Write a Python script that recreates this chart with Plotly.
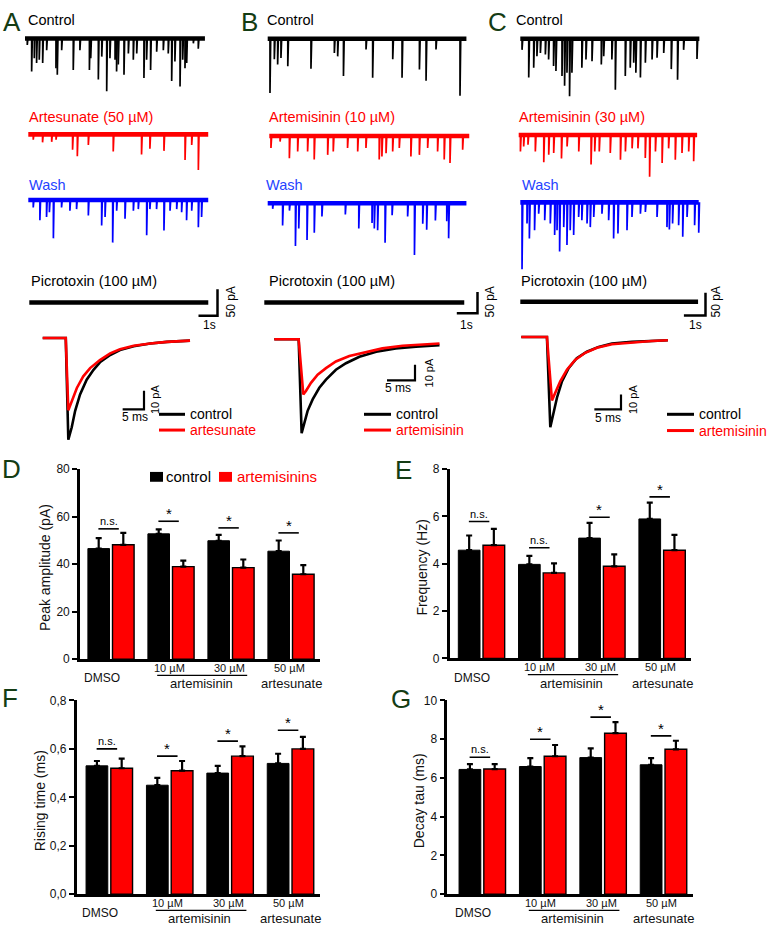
import plotly.graph_objects as go

W, H = 768, 934
FONT = "Liberation Sans, Arial, sans-serif"
BLACK = "#000000"
RED = "#ff0000"
BLUE = "#0000ff"
BLUE_TXT = "#2443ff"
LETTER = "#143c14"

# ---------------- spontaneous IPSC recordings: event times (s) and amplitudes (pA) ----------------
A_ctrl_t = [0.12, 0.35, 0.49, 0.61, 0.75, 0.93, 1.14, 1.63, 1.70, 1.93, 2.54, 2.89, 3.39, 3.46, 3.86, 4.04,
            4.30, 4.47, 4.74, 4.82, 4.91, 5.21, 5.44, 5.70, 5.88, 6.26, 6.40, 6.61, 6.93, 7.28, 7.54, 7.72,
            7.89, 8.16, 8.30, 8.42, 8.51, 8.86, 9.12]
A_ctrl_a = [12, 62, 37, 46, 40, 46, 22, 56, 68, 22, 59, 22, 59, 37, 77, 34,
            99, 37, 40, 62, 49, 68, 28, 40, 28, 74, 40, 59, 25, 22, 28, 80,
            43, 90, 40, 56, 46, 9, 19]
A_drug_t = [0.26, 0.75, 1.23, 1.46, 2.33, 2.58, 3.16, 4.47, 5.96, 6.40, 7.14, 8.25, 8.60, 8.95]
A_drug_a = [10, 15, 14, 10, 29, 41, 20, 32, 38, 27, 31, 48, 20, 67]
A_wash_t = [0.26, 0.61, 0.96, 1.11, 1.32, 1.75, 2.19, 2.54, 3.16, 3.86, 4.04, 4.44, 4.65, 5.09, 5.53, 5.79,
            6.23, 6.40, 6.75, 7.14, 7.46, 7.81, 8.07, 8.33, 8.60, 8.95, 9.12]
A_wash_a = [14, 38, 32, 23, 72, 14, 20, 17, 29, 48, 32, 80, 20, 35, 20, 17,
            66, 17, 17, 57, 20, 17, 23, 38, 20, 51, 32]

B_ctrl_t = [0.11, 0.32, 0.48, 0.64, 0.97, 2.09, 3.22, 3.38, 3.66, 4.75, 5.07, 6.04, 6.49, 7.33, 7.65, 8.13, 9.29]
B_ctrl_a = [127, 48, 60, 45, 64, 70, 33, 41, 87, 25, 91, 48, 91, 72, 98, 25, 133]
B_drug_t = [0.08, 0.52, 0.97, 1.37, 1.85, 2.17, 2.82, 3.09, 3.78, 4.27, 4.67, 5.31, 5.44, 5.64, 5.96, 6.28,
            6.84, 7.25, 7.65, 8.13, 8.45, 8.73, 9.34]
B_drug_a = [28, 13, 52, 36, 36, 55, 44, 36, 28, 36, 28, 55, 48, 40, 36, 28,
            48, 44, 28, 36, 55, 63, 32]
B_wash_t = [0.24, 0.72, 1.05, 1.34, 1.50, 1.90, 2.25, 2.62, 3.75, 4.40, 5.04, 5.15, 5.31, 5.67, 6.01, 6.76,
            7.09, 7.49, 7.68, 8.10, 8.65, 8.74]
B_wash_a = [13, 52, 17, 100, 59, 86, 69, 31, 26, 59, 46, 59, 63, 92, 28, 31,
            121, 48, 62, 40, 42, 82]

C_ctrl_t = [0.08, 0.39, 0.62, 0.77, 0.93, 1.16, 1.31, 1.54, 1.65, 1.93, 2.05, 2.16, 2.28, 2.39, 2.85, 3.04,
            3.32, 3.75, 3.86, 4.24, 4.40, 4.86, 5.09, 5.25, 5.35, 5.56, 5.79, 6.10, 6.33, 6.64, 6.99, 7.28,
            7.56, 8.18]
C_ctrl_a = [24, 84, 63, 38, 31, 34, 45, 59, 70, 81, 102, 74, 125, 74, 63, 45,
            49, 56, 38, 45, 111, 81, 63, 52, 74, 84, 52, 45, 41, 31, 66, 89,
            24, 44]
C_drug_t = [0.08, 0.23, 0.43, 0.77, 1.16, 1.39, 1.62, 1.98, 2.24, 2.78, 3.35, 3.52, 3.73, 4.24, 4.71, 4.94,
            5.25, 5.52, 5.86, 6.06, 6.33, 6.64, 6.94, 7.25, 7.56, 7.87, 8.10]
C_drug_a = [36, 25, 21, 36, 59, 43, 39, 51, 25, 36, 64, 36, 36, 39, 54, 36,
            29, 29, 50, 91, 36, 61, 29, 54, 39, 36, 57]
C_wash_t = [0.08, 0.31, 0.42, 0.66, 0.85, 1.13, 1.39, 1.59, 1.70, 1.82, 2.01, 2.16, 2.31, 2.47, 2.70, 2.85,
            3.09, 3.24, 3.40, 3.78, 4.09, 4.32, 4.52, 4.94, 5.17, 5.56, 5.79, 6.33, 6.79, 6.90, 7.05, 7.33,
            7.52, 7.72, 8.07, 8.26]
C_wash_a = [146, 46, 79, 61, 25, 39, 46, 71, 61, 107, 54, 93, 61, 71, 32, 39,
            46, 54, 32, 25, 39, 79, 68, 61, 32, 25, 21, 32, 54, 59, 46, 50,
            75, 32, 50, 66]

# recording durations (s)
A_len = [9.47, 9.47, 9.47, 9.42]
B_len = [9.60, 9.66, 9.60, 9.66]
C_len = [8.29, 8.26, 8.26, 8.23]

# ---------------- averaged IPSC waveforms: time (ms), current (pA) ----------------
A_avg_t = [0, 5.4, 6.0, 6.8, 7.6, 8.75, 10.3, 11.9, 13.4, 15.8, 18.1, 21.3, 25.2, 29.1, 34.5]
A_avg_ctrl = [0, 0, -54.4, -47.7, -38.9, -30.2, -22.3, -17.0, -13.0, -9.1, -6.5, -4.4, -3.0, -2.1, -1.4]
A_avg_drug_t = [0, 5.4, 6.0, 6.8, 8.0, 9.5, 11.1, 13.4, 15.8, 18.1, 21.3, 25.2, 29.1, 34.5]
A_avg_drug = [0, 0, -38.6, -33.7, -26.7, -20.5, -16.1, -11.8, -8.2, -6.0, -4.2, -3.0, -2.1, -1.4]

B_avg_t = [0, 4.35, 4.88, 5.36, 5.95, 6.85, 8.04, 9.23, 11.0, 12.8, 15.2, 18.2, 21.7, 25.3, 29.5]
B_avg_ctrl = [0, 0, -60.7, -53.7, -46.3, -38.9, -31.4, -26.1, -19.7, -15.5, -11.3, -8.1, -5.9, -4.9, -3.8]
B_avg_drug_t = [0, 4.35, 5.18, 5.65, 6.55, 7.74, 9.23, 11.0, 13.4, 16.4, 19.3, 22.9, 26.5, 29.5]
B_avg_drug = [0, 0, -35.7, -33.5, -28.2, -22.9, -18.7, -14.4, -10.8, -8.1, -5.9, -4.2, -3.4, -2.8]

C_avg_t = [0, 4.81, 5.44, 6.06, 6.69, 7.63, 8.88, 10.4, 12.3, 14.5, 17.0, 20.75, 24.5, 27.5]
C_avg_ctrl = [0, 0, -61.1, -52.2, -41.1, -30.0, -21.1, -14.4, -10.0, -6.7, -4.4, -3.3, -2.7, -2.2]
C_avg_drug_t = [0, 4.81, 5.75, 6.38, 7.31, 8.56, 10.1, 12.0, 14.2, 17.0, 20.75, 24.5, 27.5]
C_avg_drug = [0, 0, -42.9, -37.8, -30.0, -22.2, -15.6, -10.7, -7.3, -4.9, -3.6, -2.7, -2.2]

# ---------------- summary bar data (mean, SEM) ----------------
group_pos = [0, 1, 2, 3]
conc_labels = ["", "10 µM", "30 µM", "50 µM"]
drug_labels = ["DMSO", "artemisinin", "artesunate"]

D_ctrl = [46.5, 52.7, 49.8, 45.4]
D_ctrl_err = [4.4, 1.9, 2.5, 4.5]
D_drug = [48.1, 38.9, 38.5, 35.7]
D_drug_err = [5.0, 2.5, 3.4, 3.8]
D_sig = ["n.s.", "*", "*", "*"]
D_sig_lvl = [54.8, 58.0, 55.2, 53.1]

E_ctrl = [4.57, 3.97, 5.08, 5.89]
E_ctrl_err = [0.62, 0.36, 0.64, 0.69]
E_drug = [4.78, 3.61, 3.89, 4.57]
E_drug_err = [0.69, 0.40, 0.50, 0.65]
E_sig = ["n.s.", "n.s.", "*", "*"]
E_sig_lvl = [5.78, 4.67, 5.96, 6.82]

F_ctrl = [0.53, 0.45, 0.50, 0.54]
F_ctrl_err = [0.02, 0.03, 0.03, 0.04]
F_drug = [0.52, 0.51, 0.57, 0.60]
F_drug_err = [0.04, 0.04, 0.04, 0.05]
F_sig = ["n.s.", "*", "*", "*"]
F_sig_lvl = [0.600, 0.570, 0.632, 0.677]

G_ctrl = [6.44, 6.59, 7.05, 6.68]
G_ctrl_err = [0.27, 0.43, 0.48, 0.34]
G_drug = [6.46, 7.12, 8.31, 7.48]
G_drug_err = [0.25, 0.58, 0.57, 0.44]
G_sig = ["n.s.", "*", "*", "*"]
G_sig_lvl = [7.07, 8.0, 9.14, 8.17]

# =====================================================================================
fig = go.Figure()
layout_axes = {}
annotations = []
shapes = []
count = [0]


def px(x):
    return x / W


def py(y):
    return 1 - y / H


def new_axes(box, origin, scale, visible=False):
    """box=(left, top, right, bottom) in px; origin=px position of data (0,0); scale=px per unit."""
    count[0] += 1
    n = count[0]
    sfx = "" if n == 1 else str(n)
    l, t, r, b = box
    x0, y0 = origin
    sx, sy = scale
    xa = dict(domain=[px(l), px(r)], range=[(l - x0) / sx, (r - x0) / sx], anchor="y" + sfx,
              visible=visible, fixedrange=True, showgrid=False, zeroline=False)
    ya = dict(domain=[py(b), py(t)], range=[(y0 - b) / sy, (y0 - t) / sy], anchor="x" + sfx,
              visible=visible, fixedrange=True, showgrid=False, zeroline=False)
    layout_axes["xaxis" + sfx] = xa
    layout_axes["yaxis" + sfx] = ya
    return "x" + sfx, "y" + sfx


def text(t, x, y, size=14, color=BLACK, xanchor="center", yanchor="middle", angle=0, xref="paper", yref="paper"):
    annotations.append(dict(text=t, x=px(x) if xref == "paper" else x, y=py(y) if yref == "paper" else y,
                            xref=xref, yref=yref, showarrow=False, xanchor=xanchor, yanchor=yanchor,
                            textangle=angle, font=dict(size=size, color=color, family=FONT), borderpad=0))


def hline_px(x0, x1, y, color=BLACK, width=2.5):
    shapes.append(dict(type="line", xref="paper", yref="paper", x0=px(x0), x1=px(x1), y0=py(y), y1=py(y),
                       line=dict(color=color, width=width)))


def add_recording(origin, sx, sy, length, times, amps, color, base_w=4.6):
    ox, oy = origin
    depth = max(amps) if amps else 0
    box = (ox - 4, oy - 10, ox + length * sx + 30, oy + depth * sy + 10)
    xr, yr = new_axes(box, origin, (sx, sy))
    fig.add_trace(go.Scatter(x=[0, length], y=[0, 0], mode="lines", line=dict(color=color, width=base_w),
                             xaxis=xr, yaxis=yr, showlegend=False, hoverinfo="skip"))
    xs, ys = [], []
    for t, a in zip(times, amps):
        xs += [t, t, t + 0.035, None]
        ys += [0, -a, 0, None]
    if xs:
        fig.add_trace(go.Scatter(x=xs, y=ys, mode="lines", line=dict(color=color, width=1.7),
                                 xaxis=xr, yaxis=yr, showlegend=False, hoverinfo="skip"))
    return xr, yr


def add_scalebar(xr, yr, corner, dx, dy, width=2.5):
    cx, cy = corner
    fig.add_trace(go.Scatter(x=[cx - dx, cx, cx], y=[cy, cy, cy + dy], mode="lines",
                             line=dict(color=BLACK, width=width), xaxis=xr, yaxis=yr,
                             showlegend=False, hoverinfo="skip"))


# ---------------- panels A/B/C: recordings ----------------
panels = [
    dict(letter="A", lx=11.5, sx=19.0, sy=0.54, drug="Artesunate (50 µM)",
         origins=[(25, 32), (28.3, 129.3), (28.3, 196), (29.3, 300)], lens=A_len,
         data=[(A_ctrl_t, A_ctrl_a), (A_drug_t, A_drug_a), (A_wash_t, A_wash_a)],
         labx=[27, 28, 28, 30], bar_corner_px=(217.5, 313.5), lab50=(231, 300), lab1s=(209, 323)),
    dict(letter="B", lx=249, sx=20.7, sy=0.434, drug="Artemisinin (10 µM)",
         origins=[(267.7, 32.3), (269.3, 131), (267.7, 199.3), (264.3, 300)], lens=B_len,
         data=[(B_ctrl_t, B_ctrl_a), (B_drug_t, B_drug_a), (B_wash_t, B_wash_a)],
         labx=[266, 268, 265, 268], bar_corner_px=(477.5, 311), lab50=(490, 300), lab1s=(466, 323)),
    dict(letter="C", lx=497, sx=21.6, sy=0.466, drug="Artemisinin (30 µM)",
         origins=[(520.3, 32.3), (518.7, 130), (520.3, 198.3), (520.3, 299.3)], lens=C_len,
         data=[(C_ctrl_t, C_ctrl_a), (C_drug_t, C_drug_a), (C_wash_t, C_wash_a)],
         labx=[515, 518, 521, 520], bar_corner_px=(705.5, 313.3), lab50=(716, 300), lab1s=(695, 323)),
]

row_colors = [BLACK, RED, BLUE]
row_text_colors = [BLACK, RED, BLUE_TXT]
label_y = [13, 112, 181, 278]

for p in panels:
    text(p["letter"], p["lx"], 15, size=26, color=LETTER)
    names = ["Control", p["drug"], "Wash", "Picrotoxin (100 µM)"]
    for i in range(3):
        t, a = p["data"][i]
        add_recording(p["origins"][i], p["sx"], p["sy"], p["lens"][i], t, a, row_colors[i])
        text(names[i], p["labx"][i], label_y[i], size=14.5, color=row_text_colors[i], xanchor="left")
    ox, oy = p["origins"][3]
    xr, yr = add_recording((ox, oy), p["sx"], p["sy"], p["lens"][3], [], [], BLACK, base_w=4.5)
    # widen the picrotoxin axes to hold the scale bar
    sfx = xr[1:]
    cxp, cyp = p["bar_corner_px"]
    l, r = ox - 4, cxp + 10
    t_, b_ = oy - 20, cyp + 8
    layout_axes["xaxis" + sfx].update(domain=[px(l), px(r)], range=[(l - ox) / p["sx"], (r - ox) / p["sx"]])
    layout_axes["yaxis" + sfx].update(domain=[py(b_), py(t_)], range=[(oy - b_) / p["sy"], (oy - t_) / p["sy"]])
    add_scalebar(xr, yr, ((cxp - ox) / p["sx"], -(cyp - oy) / p["sy"]), 1.0, 50.0)
    text(names[3], p["labx"][3], label_y[3], size=14.5, color=BLACK, xanchor="left")
    text("50 pA", p["lab50"][0], p["lab50"][1], size=12, angle=-90)
    text("1s", p["lab1s"][0], p["lab1s"][1], size=12)

# ---------------- averaged IPSCs ----------------
avg = [
    dict(box=(35, 326, 205, 446), origin=(42.7, 336), scale=(4.27, 1.9),
         ctrl=(A_avg_t, A_avg_ctrl), drug=(A_avg_drug_t, A_avg_drug), corner=(144, 408.5),
         lab5=(134.5, 416.5), lab10=(155, 399), leg_x=(159, 185), leg_y=(413.5, 429.5), drugname="artesunate"),
    dict(box=(265, 326, 450, 440), origin=(274.3, 337.3), scale=(5.6, 1.57),
         ctrl=(B_avg_t, B_avg_ctrl), drug=(B_avg_drug_t, B_avg_drug), corner=(415, 379),
         lab5=(398, 387), lab10=(429, 372), leg_x=(364, 391), leg_y=(413.5, 429.5), drugname="artemisinin"),
    dict(box=(515, 325, 680, 436), origin=(521.3, 335), scale=(5.33, 1.5),
         ctrl=(C_avg_t, C_avg_ctrl), drug=(C_avg_drug_t, C_avg_drug), corner=(621, 408.5),
         lab5=(608, 417), lab10=(633, 399), leg_x=(667, 694), leg_y=(413.5, 430), drugname="artemisinin"),
]
for a in avg:
    xr, yr = new_axes(a["box"], a["origin"], a["scale"])
    fig.add_trace(go.Scatter(x=a["ctrl"][0], y=a["ctrl"][1], mode="lines",
                             line=dict(color=BLACK, width=2.6),
                             xaxis=xr, yaxis=yr, showlegend=False, hoverinfo="skip"))
    fig.add_trace(go.Scatter(x=a["drug"][0], y=a["drug"][1], mode="lines",
                             line=dict(color=RED, width=2.6),
                             xaxis=xr, yaxis=yr, showlegend=False, hoverinfo="skip"))
    cx = (a["corner"][0] - a["origin"][0]) / a["scale"][0]
    cy = -(a["corner"][1] - a["origin"][1]) / a["scale"][1]
    add_scalebar(xr, yr, (cx, cy), 5.0, 10.0, width=2.2)
    text("5 ms", a["lab5"][0], a["lab5"][1], size=12)
    text("10 pA", a["lab10"][0], a["lab10"][1], size=11, angle=-90)
    hline_px(a["leg_x"][0], a["leg_x"][1], a["leg_y"][0], BLACK, 3)
    hline_px(a["leg_x"][0], a["leg_x"][1], a["leg_y"][1], RED, 3)
    text("control", a["leg_x"][1] + 4, a["leg_y"][0], size=14, xanchor="left")
    text(a["drugname"], a["leg_x"][1] + 4, a["leg_y"][1], size=14, color=RED, xanchor="left")

# ---------------- bar charts D-G ----------------
bars = [
    dict(letter="D", lpos=(11, 469), axis_x=80, right=320, y0=662, ytop=469, ymax=80, g0=111, gstep=60,
         ctrl=D_ctrl, ctrl_err=D_ctrl_err, drug=D_drug, drug_err=D_drug_err, sig=D_sig, lvl=D_sig_lvl,
         tickvals=[0, 20, 40, 60, 80], ticktext=["0", "20", "40", "60", "80"],
         title="Peak amplitude (pA)", title_x=45),
    dict(letter="E", lpos=(403, 470), axis_x=449.7, right=691, y0=661.3, ytop=469, ymax=8, g0=481.5, gstep=60.2,
         ctrl=E_ctrl, ctrl_err=E_ctrl_err, drug=E_drug, drug_err=E_drug_err, sig=E_sig, lvl=E_sig_lvl,
         tickvals=[0, 2, 4, 6, 8], ticktext=["0", "2", "4", "6", "8"],
         title="Frequency (Hz)", title_x=422),
    dict(letter="F", lpos=(10, 702), axis_x=76.7, right=320, y0=900.7, ytop=704, ymax=0.8, g0=109.3, gstep=60.4,
         ctrl=F_ctrl, ctrl_err=F_ctrl_err, drug=F_drug, drug_err=F_drug_err, sig=F_sig, lvl=F_sig_lvl,
         tickvals=[0, 0.2, 0.4, 0.6, 0.8], ticktext=["0,0", "0,2", "0,4", "0,6", "0,8"],
         title="Rising time (ms)", title_x=40),
    dict(letter="G", lpos=(401, 703), axis_x=447.3, right=693, y0=900.7, ytop=704, ymax=10, g0=482.3, gstep=60.4,
         ctrl=G_ctrl, ctrl_err=G_ctrl_err, drug=G_drug, drug_err=G_drug_err, sig=G_sig, lvl=G_sig_lvl,
         tickvals=[0, 2, 4, 6, 8, 10], ticktext=["0", "2", "4", "6", "8", "10"],
         title="Decay tau (ms)", title_x=419),
]

for b in bars:
    sy = (b["y0"] - b["ytop"]) / b["ymax"]
    xr, yr = new_axes((b["axis_x"], b["ytop"], b["right"], b["y0"]), (b["g0"], b["y0"]), (b["gstep"], sy))
    sfx = xr[1:]
    layout_axes["xaxis" + sfx].update(visible=True, showline=True, linecolor=BLACK, linewidth=2.6,
                                      showticklabels=False, ticks="")
    layout_axes["yaxis" + sfx].update(visible=True, showline=True, linecolor=BLACK, linewidth=2.6,
                                      ticks="outside", ticklen=5, tickwidth=2, tickcolor=BLACK,
                                      tickvals=b["tickvals"], ticktext=b["ticktext"],
                                      tickfont=dict(size=12, color="#111111", family=FONT))
    fig.add_trace(go.Bar(x=[g - 0.205 for g in group_pos], y=b["ctrl"], width=0.36,
                         marker=dict(color=BLACK, line=dict(color=BLACK, width=1)),
                         error_y=dict(type="data", symmetric=False, array=b["ctrl_err"], arrayminus=[0] * 4,
                                      color=BLACK, thickness=2.2, width=3),
                         xaxis=xr, yaxis=yr, showlegend=False, hoverinfo="skip"))
    fig.add_trace(go.Bar(x=[g + 0.205 for g in group_pos], y=b["drug"], width=0.36,
                         marker=dict(color=RED, line=dict(color=BLACK, width=1.4)),
                         error_y=dict(type="data", symmetric=False, array=b["drug_err"], arrayminus=[0] * 4,
                                      color=BLACK, thickness=2.2, width=3),
                         xaxis=xr, yaxis=yr, showlegend=False, hoverinfo="skip"))
    xs, ys = [], []
    for g, lv, s in zip(group_pos, b["lvl"], b["sig"]):
        xs += [g - 0.21, g + 0.13, None]
        ys += [lv, lv, None]
        annotations.append(dict(text=s, x=g - 0.04, y=lv, xref=xr, yref=yr, showarrow=False,
                                xanchor="center", yanchor="bottom", yshift=(-3 if s == "*" else 0),
                                font=dict(size=(15 if s == "*" else 11), color=BLACK, family=FONT)))
    fig.add_trace(go.Scatter(x=xs, y=ys, mode="lines", line=dict(color=BLACK, width=1.6),
                             xaxis=xr, yaxis=yr, showlegend=False, hoverinfo="skip"))
    # group labels below the axis
    y_axis = b["y0"]
    annotations.append(dict(text=drug_labels[0], x=group_pos[0] - 0.15, y=py(y_axis + 19.5), xref=xr, yref="paper",
                            showarrow=False, xanchor="center", yanchor="middle",
                            font=dict(size=12, color="#111111", family=FONT)))
    for g in group_pos[1:]:
        annotations.append(dict(text=conc_labels[g], x=g - 0.03, y=py(y_axis + 8.8), xref=xr, yref="paper",
                                showarrow=False, xanchor="center", yanchor="middle",
                                font=dict(size=11, color="#111111", family=FONT)))
    annotations.append(dict(text=drug_labels[1], x=1.5, y=py(y_axis + 25), xref=xr, yref="paper",
                            showarrow=False, xanchor="center", yanchor="middle",
                            font=dict(size=13, color="#111111", family=FONT)))
    annotations.append(dict(text=drug_labels[2], x=3.0, y=py(y_axis + 25), xref=xr, yref="paper",
                            showarrow=False, xanchor="center", yanchor="middle",
                            font=dict(size=13, color="#111111", family=FONT)))
    shapes.append(dict(type="line", xref=xr, yref="paper", x0=0.77, x1=2.27, y0=py(y_axis + 16.5),
                       y1=py(y_axis + 16.5), line=dict(color=BLACK, width=1.3)))
    text(b["title"], b["title_x"], (b["y0"] + b["ytop"]) / 2 + 4, size=14, color="#111111", angle=-90)
    text(b["letter"], b["lpos"][0], b["lpos"][1], size=26, color=LETTER)

# legend of panel D
shapes.append(dict(type="rect", xref="paper", yref="paper", x0=px(150), x1=px(163), y0=py(482), y1=py(472),
                   fillcolor=BLACK, line=dict(width=0)))
text("control", 165, 477, size=15, xanchor="left")
shapes.append(dict(type="rect", xref="paper", yref="paper", x0=px(219), x1=px(232), y0=py(482), y1=py(472),
                   fillcolor=RED, line=dict(width=0)))
text("artemisinins", 236, 477, size=15, color=RED, xanchor="left")

fig.update_layout(width=W, height=H, margin=dict(l=0, r=0, t=0, b=0), paper_bgcolor="white",
                  plot_bgcolor="rgba(0,0,0,0)", barmode="overlay", showlegend=False,
                  annotations=annotations, shapes=shapes, font=dict(family=FONT), **layout_axes)
fig.write_html("out.html", config={"displayModeBar": False},
               post_script="document.body.style.margin='0px';document.body.style.overflow='hidden';")
